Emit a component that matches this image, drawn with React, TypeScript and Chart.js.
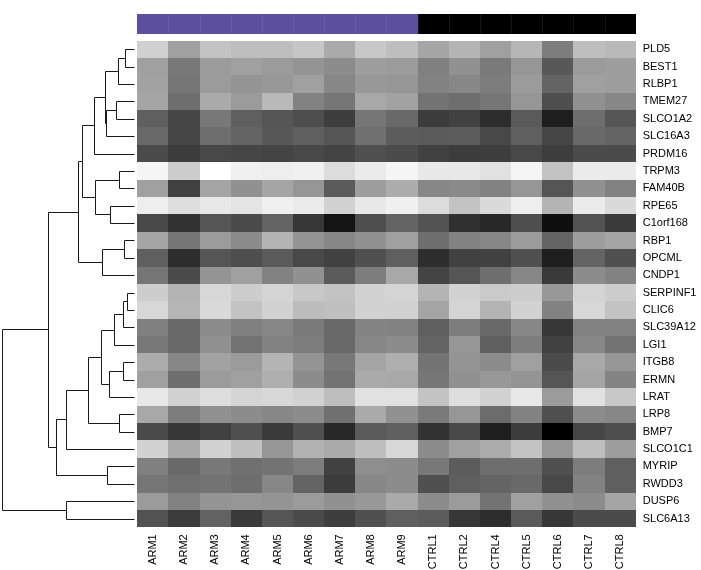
import React, { useEffect, useRef } from "react";
import { Chart, registerables } from "chart.js";
Chart.register(...registerables);

// ---- data ----
const samples = ["ARM1", "ARM2", "ARM3", "ARM4", "ARM5", "ARM6", "ARM7", "ARM8", "ARM9", "CTRL1", "CTRL2", "CTRL4", "CTRL5", "CTRL6", "CTRL7", "CTRL8"];
const sampleGroups = ["ARM", "ARM", "ARM", "ARM", "ARM", "ARM", "ARM", "ARM", "ARM", "CTRL", "CTRL", "CTRL", "CTRL", "CTRL", "CTRL", "CTRL"];
const groupNames = ["ARM", "CTRL"];
const groupColors = ["#5c509e", "#000000"];

const genes = ["PLD5", "BEST1", "RLBP1", "TMEM27", "SLCO1A2", "SLC16A3", "PRDM16", "TRPM3", "FAM40B", "RPE65", "C1orf168", "RBP1", "OPCML", "CNDP1", "SERPINF1", "CLIC6", "SLC39A12", "LGI1", "ITGB8", "ERMN", "LRAT", "LRP8", "BMP7", "SLCO1C1", "MYRIP", "RWDD3", "DUSP6", "SLC6A13"];

// gray level of each cell (0 = black, 255 = white), one array per gene
const rowPLD5 = [208, 160, 195, 190, 190, 198, 170, 200, 190, 165, 180, 160, 182, 125, 190, 185];
const rowBEST1 = [160, 120, 155, 160, 155, 148, 140, 158, 155, 128, 145, 122, 150, 88, 155, 158];
const rowRLBP1 = [162, 118, 155, 148, 152, 160, 135, 152, 150, 130, 135, 125, 155, 100, 160, 158];
const rowTMEM27 = [165, 110, 170, 155, 185, 130, 118, 168, 162, 115, 110, 118, 150, 78, 145, 135];
const rowSLCO1A2 = [95, 70, 120, 95, 85, 78, 62, 118, 105, 60, 65, 45, 90, 30, 110, 85];
const rowSLC16A3 = [105, 70, 110, 100, 88, 95, 85, 112, 92, 90, 92, 72, 95, 70, 105, 100];
const rowPRDM16 = [75, 60, 72, 70, 68, 72, 68, 80, 75, 65, 60, 62, 72, 62, 75, 75];
const rowTRPM3 = [245, 205, 255, 240, 238, 240, 220, 235, 245, 232, 232, 225, 245, 195, 235, 235];
const rowFAM40B = [160, 65, 165, 145, 165, 150, 90, 158, 172, 135, 138, 130, 150, 85, 145, 130];
const rowRPE65 = [238, 222, 232, 228, 240, 235, 210, 232, 240, 220, 195, 218, 238, 180, 235, 218];
const rowC1orf168 = [72, 50, 85, 75, 100, 55, 20, 78, 100, 82, 48, 40, 78, 15, 82, 58];
const rowRBP1 = [165, 118, 155, 140, 180, 148, 135, 145, 160, 110, 130, 135, 155, 100, 158, 165];
const rowOPCML = [95, 45, 85, 78, 90, 72, 65, 80, 95, 45, 65, 65, 80, 30, 100, 80];
const rowCNDP1 = [118, 75, 148, 160, 130, 145, 90, 125, 168, 68, 85, 110, 135, 58, 140, 130];
const rowSERPINF1 = [205, 180, 215, 205, 212, 200, 195, 210, 212, 180, 210, 202, 205, 152, 212, 205];
const rowCLIC6 = [215, 182, 218, 195, 210, 188, 192, 210, 210, 165, 212, 180, 210, 130, 215, 195];
const rowSLC39A12 = [128, 105, 140, 128, 135, 122, 105, 132, 130, 95, 125, 105, 135, 55, 130, 130];
const rowLGI1 = [120, 105, 145, 115, 130, 125, 105, 135, 140, 100, 150, 95, 125, 65, 135, 115];
const rowITGB8 = [172, 135, 162, 155, 180, 148, 120, 165, 175, 115, 148, 140, 160, 75, 168, 150];
const rowERMN = [160, 110, 155, 160, 175, 140, 115, 170, 168, 118, 145, 152, 148, 85, 165, 132];
const rowLRAT = [232, 210, 222, 212, 215, 210, 190, 225, 225, 195, 222, 210, 232, 155, 225, 200];
const rowLRP8 = [168, 125, 145, 140, 135, 140, 112, 170, 145, 122, 150, 108, 130, 80, 140, 135];
const rowBMP7 = [75, 55, 65, 80, 58, 80, 40, 90, 95, 50, 72, 30, 60, 0, 70, 78];
const rowSLCO1C1 = [210, 170, 210, 192, 150, 178, 170, 190, 215, 140, 160, 172, 195, 150, 190, 158];
const rowMYRIP = [128, 105, 120, 112, 115, 125, 65, 142, 140, 120, 92, 110, 110, 80, 125, 95];
const rowRWDD3 = [118, 112, 115, 110, 135, 100, 60, 135, 140, 80, 95, 100, 105, 72, 130, 95];
const rowDUSP6 = [155, 130, 148, 150, 148, 155, 145, 152, 170, 140, 155, 115, 160, 145, 140, 165];
const rowSLC6A13 = [82, 60, 98, 58, 85, 75, 62, 80, 95, 92, 55, 45, 90, 55, 75, 75];

const intensityRows = [rowPLD5, rowBEST1, rowRLBP1, rowTMEM27, rowSLCO1A2, rowSLC16A3, rowPRDM16, rowTRPM3, rowFAM40B, rowRPE65, rowC1orf168, rowRBP1, rowOPCML, rowCNDP1, rowSERPINF1, rowCLIC6, rowSLC39A12, rowLGI1, rowITGB8, rowERMN, rowLRAT, rowLRP8, rowBMP7, rowSLCO1C1, rowMYRIP, rowRWDD3, rowDUSP6, rowSLC6A13];

// row dendrogram (hclust style: negative = leaf -(index+1), positive = merge number)
const mergeLeft = [-1, 1, -4, 3, 2, 5, -8, -10, 7, 6, -12, 11, 10, -15, 14, 15, -19, 17, 16, -22, 19, 21, -25, 22, 13, -27, 25];
const mergeRight = [-2, -3, -5, -6, 4, -7, -9, -11, 8, 9, -13, -14, 12, -16, -17, -18, -20, -21, 18, -23, 20, -24, -26, 23, 24, -28, 26];
const mergeHeight = [9, 15.7, 18.3, 28, 29, 39.7, 15, 24, 39, 51.7, 10, 32, 55.7, 7.3, 10.7, 20, 11.3, 25.3, 33, 15, 45.7, 68.3, 27.3, 78, 85.7, 68.3, 132.3];

// ---- layout constants ----
const X_MIN = -4.853;
const X_MAX = 15.5;
const Y_MIN = -2.051;
const Y_MAX = 27.5;
const BAR_TOP = -2.051;
const BAR_BOTTOM = -0.871;
const ROOT_H = 132.3;

const heatPlugin = {
  id: "heatmapDendro",
  beforeDatasetsDraw(chart: any) {
    const ctx = chart.ctx;
    const x = chart.scales.x;
    const y = chart.scales.y;
    const xd = chart.scales.xd;
    ctx.save();
    // column color bar
    samples.forEach((_, j) => {
      const x0 = Math.round(x.getPixelForValue(j - 0.5));
      const x1 = Math.round(x.getPixelForValue(j + 0.5));
      const y0 = Math.round(y.getPixelForValue(BAR_TOP));
      const y1 = Math.round(y.getPixelForValue(BAR_BOTTOM));
      ctx.fillStyle = groupColors[groupNames.indexOf(sampleGroups[j])];
      ctx.fillRect(x0, y0, x1 - x0, y1 - y0);
      if (j > 0) {
        ctx.fillStyle = "rgba(255,255,255,0.08)";
        ctx.fillRect(x0, y0, 1, y1 - y0);
      }
    });
    // cells
    intensityRows.forEach((row, i) => {
      row.forEach((v, j) => {
        const x0 = Math.round(x.getPixelForValue(j - 0.5));
        const x1 = Math.round(x.getPixelForValue(j + 0.5));
        const y0 = Math.round(y.getPixelForValue(i - 0.5));
        const y1 = Math.round(y.getPixelForValue(i + 0.5));
        ctx.fillStyle = `rgb(${v},${v},${v})`;
        ctx.fillRect(x0, y0, x1 - x0, y1 - y0);
      });
    });
    // dendrogram
    const nodeY: number[] = [];
    const pos = (id: number) =>
      id < 0 ? { yv: -id - 1, h: 0 } : { yv: nodeY[id - 1], h: mergeHeight[id - 1] };
    ctx.strokeStyle = "#1a1a1a";
    ctx.lineWidth = 1;
    ctx.beginPath();
    mergeLeft.forEach((l, k) => {
      const a = pos(l);
      const b = pos(mergeRight[k]);
      nodeY[k] = (a.yv + b.yv) / 2;
      const H = mergeHeight[k];
      const px = (h: number) => Math.round(xd.getPixelForValue(h)) + 0.5;
      const py = (v: number) => Math.round(y.getPixelForValue(v)) + 0.5;
      ctx.moveTo(px(a.h), py(a.yv));
      ctx.lineTo(px(H), py(a.yv));
      ctx.lineTo(px(H), py(b.yv));
      ctx.lineTo(px(b.h), py(b.yv));
    });
    ctx.stroke();
    ctx.restore();
  },
};

export default function App() {
  const ref = useRef<HTMLCanvasElement | null>(null);
  useEffect(() => {
    if (!ref.current) return;
    const font = { family: "'Liberation Sans', Arial, sans-serif", size: 11 };
    const chart = new Chart(ref.current, {
      type: "scatter",
      data: { datasets: [{ data: [] }] },
      options: {
        responsive: false,
        animation: false,
        events: [],
        layout: { padding: { left: 1.7, top: 1.7, right: 0, bottom: 0 } },
        plugins: { legend: { display: false }, tooltip: { enabled: false } },
        scales: {
          x: {
            type: "linear",
            position: "bottom",
            min: X_MIN,
            max: X_MAX,
            grid: { display: false, drawTicks: false },
            border: { display: false },
            afterBuildTicks: (s: any) => {
              s.ticks = samples.map((_, i) => ({ value: i }));
            },
            afterFit: (s: any) => {
              s.height = 42.7;
            },
            ticks: {
              autoSkip: false,
              minRotation: 90,
              maxRotation: 90,
              padding: 7,
              color: "#000",
              font,
              callback: (v: any) => samples[v],
            },
          },
          xd: {
            type: "linear",
            display: false,
            reverse: true,
            min: ROOT_H - 634,
            max: ROOT_H,
          },
          y: {
            type: "linear",
            position: "right",
            reverse: true,
            min: Y_MIN,
            max: Y_MAX,
            grid: { display: false, drawTicks: false },
            border: { display: false },
            afterBuildTicks: (s: any) => {
              s.ticks = genes.map((_, i) => ({ value: i }));
            },
            afterFit: (s: any) => {
              s.width = 65.3;
            },
            ticks: {
              autoSkip: false,
              padding: 7,
              color: "#000",
              font,
              callback: (v: any) => genes[v],
            },
          },
        },
      } as any,
      plugins: [heatPlugin],
    });
    return () => chart.destroy();
  }, []);
  return (
    <div style={{ position: "fixed", left: 0, top: 0, width: 701, height: 570, background: "#fff" }}>
      <canvas ref={ref} width={701} height={570} />
    </div>
  );
}
